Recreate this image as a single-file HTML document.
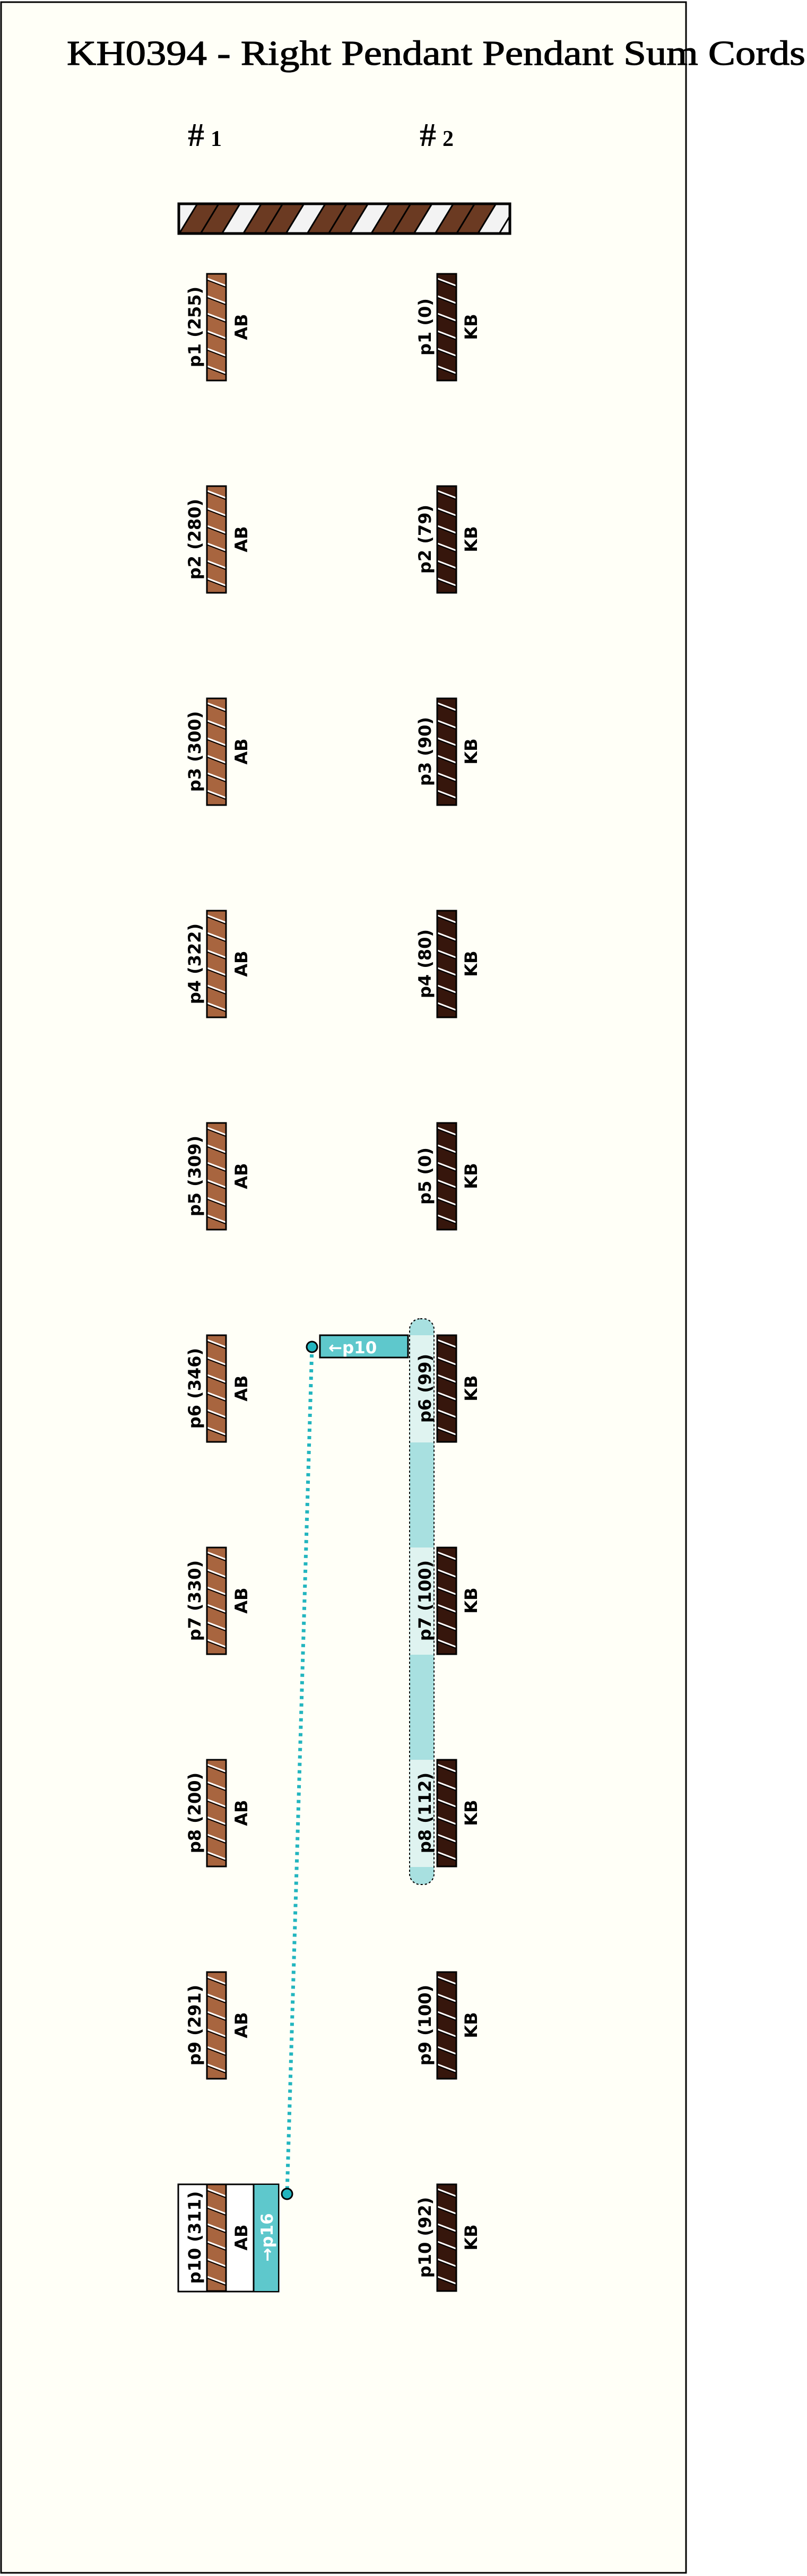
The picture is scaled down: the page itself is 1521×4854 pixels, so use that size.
<!DOCTYPE html>
<html><head><meta charset="utf-8"><style>
html,body{margin:0;padding:0;background:#fff;}
svg{display:block;}
.lb{font-family:"DejaVu Sans","Liberation Sans",sans-serif;font-weight:bold;font-size:32px;fill:#000;}
.wt{font-family:"DejaVu Sans","Liberation Sans",sans-serif;font-weight:bold;font-size:31px;fill:#fff;}
</style></head><body>
<svg width="1521" height="4854" viewBox="0 0 1521 4854" xmlns="http://www.w3.org/2000/svg">
<defs>
<g id="str">
<line x1="1" y1="12" x2="35" y2="25" stroke="#000" stroke-width="2"/><line x1="1" y1="9" x2="35" y2="22" stroke="#fff" stroke-width="3"/>
<line x1="1" y1="45" x2="35" y2="58" stroke="#000" stroke-width="2"/><line x1="1" y1="42" x2="35" y2="55" stroke="#fff" stroke-width="3"/>
<line x1="1" y1="78" x2="35" y2="91" stroke="#000" stroke-width="2"/><line x1="1" y1="75" x2="35" y2="88" stroke="#fff" stroke-width="3"/>
<line x1="1" y1="111" x2="35" y2="124" stroke="#000" stroke-width="2"/><line x1="1" y1="108" x2="35" y2="121" stroke="#fff" stroke-width="3"/>
<line x1="1" y1="144" x2="35" y2="157" stroke="#000" stroke-width="2"/><line x1="1" y1="141" x2="35" y2="154" stroke="#fff" stroke-width="3"/>
<line x1="1" y1="177" x2="35" y2="190" stroke="#000" stroke-width="2"/><line x1="1" y1="174" x2="35" y2="187" stroke="#fff" stroke-width="3"/>
</g>
<g id="cA"><rect x="0" y="0" width="36" height="201" fill="#a8653f"/><use href="#str"/><rect x="0" y="0" width="36" height="201" fill="none" stroke="#000" stroke-width="3"/></g>
<g id="cK"><rect x="0" y="0" width="36" height="201" fill="#36160c"/><use href="#str"/><rect x="0" y="0" width="36" height="201" fill="none" stroke="#000" stroke-width="3"/></g>
<clipPath id="pc"><rect x="337" y="384" width="624" height="56"/></clipPath>
</defs>
<rect x="2" y="4" width="1291" height="4844" fill="#fffff7" stroke="#000" stroke-width="3"/>
<text x="126" y="122" font-family="Liberation Serif, serif" font-size="66" stroke="#000" stroke-width="1.2" textLength="1392" lengthAdjust="spacingAndGlyphs">KH0394 - Right Pendant Pendant Sum Cords</text>
<text x="354" y="275" font-family="Liberation Serif, serif" font-weight="bold" font-size="62">#<tspan font-size="42" dx="12">1</tspan></text>
<text x="791" y="275" font-family="Liberation Serif, serif" font-weight="bold" font-size="62">#<tspan font-size="42" dx="12">2</tspan></text>
<g clip-path="url(#pc)" stroke="#000" stroke-width="3">
<rect x="337" y="384" width="624" height="56" fill="#f3f3f3" stroke="none"/>
<polygon points="338,440 378.2,440 412.2,384 372,384" fill="#6b3a22"/>
<polygon points="378.2,440 418.4,440 452.4,384 412.2,384" fill="#6b3a22"/>
<polygon points="418.4,440 458.6,440 492.6,384 452.4,384" fill="#f3f3f3"/>
<polygon points="458.6,440 498.8,440 532.8,384 492.6,384" fill="#6b3a22"/>
<polygon points="498.8,440 539,440 573,384 532.8,384" fill="#6b3a22"/>
<polygon points="539,440 579.2,440 613.2,384 573,384" fill="#f3f3f3"/>
<polygon points="579.2,440 619.4,440 653.4,384 613.2,384" fill="#6b3a22"/>
<polygon points="619.4,440 659.6,440 693.6,384 653.4,384" fill="#6b3a22"/>
<polygon points="659.6,440 699.8,440 733.8,384 693.6,384" fill="#f3f3f3"/>
<polygon points="699.8,440 740,440 774,384 733.8,384" fill="#6b3a22"/>
<polygon points="740,440 780.2,440 814.2,384 774,384" fill="#6b3a22"/>
<polygon points="780.2,440 820.4,440 854.4,384 814.2,384" fill="#f3f3f3"/>
<polygon points="820.4,440 860.6,440 894.6,384 854.4,384" fill="#6b3a22"/>
<polygon points="860.6,440 900.8,440 934.8,384 894.6,384" fill="#6b3a22"/>
<polygon points="900.8,440 941,440 975,384 934.8,384" fill="#f3f3f3"/>
</g>
<rect x="337" y="384" width="624" height="56" fill="none" stroke="#000" stroke-width="5"/>
<rect x="772" y="2485" width="46" height="1066" rx="20" fill="#a8e0e0" stroke="#000" stroke-width="2" stroke-dasharray="4 4"/>
<rect x="773" y="2516" width="44" height="202" fill="#dff3f0"/>
<rect x="773" y="2916" width="44" height="202" fill="#dff3f0"/>
<rect x="773" y="3316" width="44" height="202" fill="#dff3f0"/>
<line x1="588" y1="2538" x2="541" y2="4134" stroke="#22b5bf" stroke-width="7" stroke-dasharray="6 8"/>
<rect x="603" y="2516" width="166" height="42" fill="#5ec8cc" stroke="#000" stroke-width="3"/>
<text class="wt" x="619" y="2550">←p10</text>
<circle cx="588" cy="2538" r="10" fill="#22b5bf" stroke="#000" stroke-width="3"/>
<rect x="336" y="4116" width="189" height="202" fill="#fff" stroke="#000" stroke-width="3"/>
<rect x="478" y="4117" width="46" height="200" fill="#5ec8cc"/>
<line x1="478" y1="4116" x2="478" y2="4318" stroke="#000" stroke-width="3"/>
<text class="wt" transform="translate(514,4216) rotate(-90)" text-anchor="middle">→p16</text>
<circle cx="541" cy="4134" r="10" fill="#22b5bf" stroke="#000" stroke-width="3"/>
<use href="#cA" x="390" y="516"/><use href="#cK" x="824" y="516"/>
<use href="#cA" x="390" y="916"/><use href="#cK" x="824" y="916"/>
<use href="#cA" x="390" y="1316"/><use href="#cK" x="824" y="1316"/>
<use href="#cA" x="390" y="1716"/><use href="#cK" x="824" y="1716"/>
<use href="#cA" x="390" y="2116"/><use href="#cK" x="824" y="2116"/>
<use href="#cA" x="390" y="2516"/><use href="#cK" x="824" y="2516"/>
<use href="#cA" x="390" y="2916"/><use href="#cK" x="824" y="2916"/>
<use href="#cA" x="390" y="3316"/><use href="#cK" x="824" y="3316"/>
<use href="#cA" x="390" y="3716"/><use href="#cK" x="824" y="3716"/>
<use href="#cA" x="390" y="4116"/><use href="#cK" x="824" y="4116"/>
<g class="lb" text-anchor="middle">
<text transform="translate(378,616) rotate(-90)">p1 (255)</text><text transform="translate(466,616) rotate(-90)">AB</text>
<text transform="translate(812,616) rotate(-90)">p1 (0)</text><text transform="translate(899,616) rotate(-90)">KB</text>
<text transform="translate(378,1016) rotate(-90)">p2 (280)</text><text transform="translate(466,1016) rotate(-90)">AB</text>
<text transform="translate(812,1016) rotate(-90)">p2 (79)</text><text transform="translate(899,1016) rotate(-90)">KB</text>
<text transform="translate(378,1416) rotate(-90)">p3 (300)</text><text transform="translate(466,1416) rotate(-90)">AB</text>
<text transform="translate(812,1416) rotate(-90)">p3 (90)</text><text transform="translate(899,1416) rotate(-90)">KB</text>
<text transform="translate(378,1816) rotate(-90)">p4 (322)</text><text transform="translate(466,1816) rotate(-90)">AB</text>
<text transform="translate(812,1816) rotate(-90)">p4 (80)</text><text transform="translate(899,1816) rotate(-90)">KB</text>
<text transform="translate(378,2216) rotate(-90)">p5 (309)</text><text transform="translate(466,2216) rotate(-90)">AB</text>
<text transform="translate(812,2216) rotate(-90)">p5 (0)</text><text transform="translate(899,2216) rotate(-90)">KB</text>
<text transform="translate(378,2616) rotate(-90)">p6 (346)</text><text transform="translate(466,2616) rotate(-90)">AB</text>
<text transform="translate(812,2616) rotate(-90)">p6 (99)</text><text transform="translate(899,2616) rotate(-90)">KB</text>
<text transform="translate(378,3016) rotate(-90)">p7 (330)</text><text transform="translate(466,3016) rotate(-90)">AB</text>
<text transform="translate(812,3016) rotate(-90)">p7 (100)</text><text transform="translate(899,3016) rotate(-90)">KB</text>
<text transform="translate(378,3416) rotate(-90)">p8 (200)</text><text transform="translate(466,3416) rotate(-90)">AB</text>
<text transform="translate(812,3416) rotate(-90)">p8 (112)</text><text transform="translate(899,3416) rotate(-90)">KB</text>
<text transform="translate(378,3816) rotate(-90)">p9 (291)</text><text transform="translate(466,3816) rotate(-90)">AB</text>
<text transform="translate(812,3816) rotate(-90)">p9 (100)</text><text transform="translate(899,3816) rotate(-90)">KB</text>
<text transform="translate(378,4216) rotate(-90)">p10 (311)</text><text transform="translate(466,4216) rotate(-90)">AB</text>
<text transform="translate(812,4216) rotate(-90)">p10 (92)</text><text transform="translate(899,4216) rotate(-90)">KB</text>
</g>
</svg>
</body></html>
